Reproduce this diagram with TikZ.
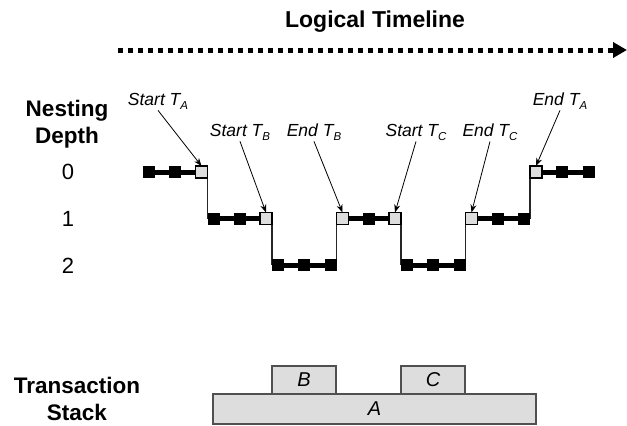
\documentclass[tikz,border=0pt]{standalone}
\usepackage{fontspec}
\setmainfont{Liberation Sans}
\usetikzlibrary{arrows.meta,backgrounds}
\definecolor{boxgray}{HTML}{DDDDDD}
\definecolor{edgegray}{HTML}{505050}
\newcommand{\lowidx}[1]{\raisebox{-0.45ex}{\fontsize{11.5}{12}\selectfont #1}}
\begin{document}
\begin{tikzpicture}[x=1pt,y=-1pt,
  blk/.style={rectangle, fill=black, minimum size=12pt, inner sep=0pt, outer sep=0pt},
  gry/.style={rectangle, fill=boxgray, draw=black, line width=1.4pt, minimum size=12pt, inner sep=0pt, outer sep=0pt},
  bar/.style={line width=5pt},
  riser/.style={line width=1.1pt, black!85},
  ptr/.style={line width=0.8pt, -{Stealth[length=8pt,width=6pt]}},
  evlbl/.style={font=\fontsize{17.5}{20}\selectfont\itshape, inner sep=1pt, anchor=base},
  sidelbl/.style={font=\fontsize{22.5}{27}\selectfont\bfseries, align=center},
  digit/.style={font=\fontsize{22}{26}\selectfont},
  stackbox/.style={rectangle, fill=boxgray, draw=edgegray, line width=1.2pt, inner sep=0pt, font=\fontsize{20}{24}\selectfont\itshape},
  timeline/.style={line width=5pt, dash pattern=on 5pt off 5pt, -{Triangle[length=14pt,width=15pt]}}]
\useasboundingbox (0,0) rectangle (627,426);

% title and timeline arrow
\node[font=\fontsize{23}{27}\selectfont\bfseries] (ttl) at (375,22) {Logical Timeline};
\coordinate (tl0) at (118,50);
\coordinate (tl1) at (627,50);
\draw[timeline] (tl0) -- (tl1);

% axis labels
\node[sidelbl] (nd) at (67,124) {Nesting\\Depth};
\node[digit] (d0) at (68,172) {0};
\node[digit] (d1) at (68,219) {1};
\node[digit] (d2) at (68,266) {2};

% depth 0
\node[blk] (s0a) at (149,172) {};
\node[blk] (s0b) at (175.25,172) {};
\node[gry] (s0c) at (201.5,172) {};
% depth 1
\node[blk] (s1a) at (213.5,218.5) {};
\node[blk] (s1b) at (239.75,218.5) {};
\node[gry] (s1c) at (266,218.5) {};
% depth 2
\node[blk] (s2a) at (278,265) {};
\node[blk] (s2b) at (304.25,265) {};
\node[blk] (s2c) at (330.5,265) {};
% depth 1
\node[gry] (s3a) at (342.5,218.5) {};
\node[blk] (s3b) at (368.75,218.5) {};
\node[gry] (s3c) at (395,218.5) {};
% depth 2
\node[blk] (s4a) at (407,265) {};
\node[blk] (s4b) at (433.25,265) {};
\node[blk] (s4c) at (459.5,265) {};
% depth 1
\node[gry] (s5a) at (471.5,218.5) {};
\node[blk] (s5b) at (497.75,218.5) {};
\node[blk] (s5c) at (524,218.5) {};
% depth 0
\node[gry] (s6a) at (536,172) {};
\node[blk] (s6b) at (562.25,172) {};
\node[blk] (s6c) at (588.5,172) {};

\begin{scope}[on background layer]
  \foreach \k in {0,...,6} {
    \draw[bar] (s\k a) -- (s\k c);
  }
  \draw[riser] (s0c.east) |- (s1a.west);
  \draw[riser] (s1c.east) |- (s2a.west);
  \draw[riser] (s2c.east) |- (s3a.west);
  \draw[riser] (s3c.east) |- (s4a.west);
  \draw[riser] (s4c.east) |- (s5a.west);
  \draw[riser] (s5c.east) |- (s6a.west);
\end{scope}

% event labels
\node[evlbl] (sa) at (158,105) {Start T\lowidx{A}};
\node[evlbl] (sb) at (240,136) {Start T\lowidx{B}};
\node[evlbl] (eb) at (314,136) {End T\lowidx{B}};
\node[evlbl] (sc) at (416,136) {Start T\lowidx{C}};
\node[evlbl] (ec) at (490,136) {End T\lowidx{C}};
\node[evlbl] (ea) at (560,105) {End T\lowidx{A}};
\draw[ptr] (sa.south) -- (s0c.north);
\draw[ptr] (sb.south) -- (s1c.north);
\draw[ptr] (eb.south) -- (s3a.north);
\draw[ptr] (sc.south) -- (s3c.north);
\draw[ptr] (ec.south) -- (s5a.north);
\draw[ptr] (ea.south) -- (s6a.north);

% transaction stack
\node[sidelbl] (ts) at (77,399) {Transaction\\Stack};
\node[stackbox, minimum width=323pt, minimum height=30pt] (ta) at (374.5,409) {A};
\node[stackbox, minimum width=64pt, minimum height=28pt] (tb) at (304,380) {B};
\node[stackbox, minimum width=64pt, minimum height=28pt] (tc) at (433,380) {C};
\end{tikzpicture}
\end{document}
